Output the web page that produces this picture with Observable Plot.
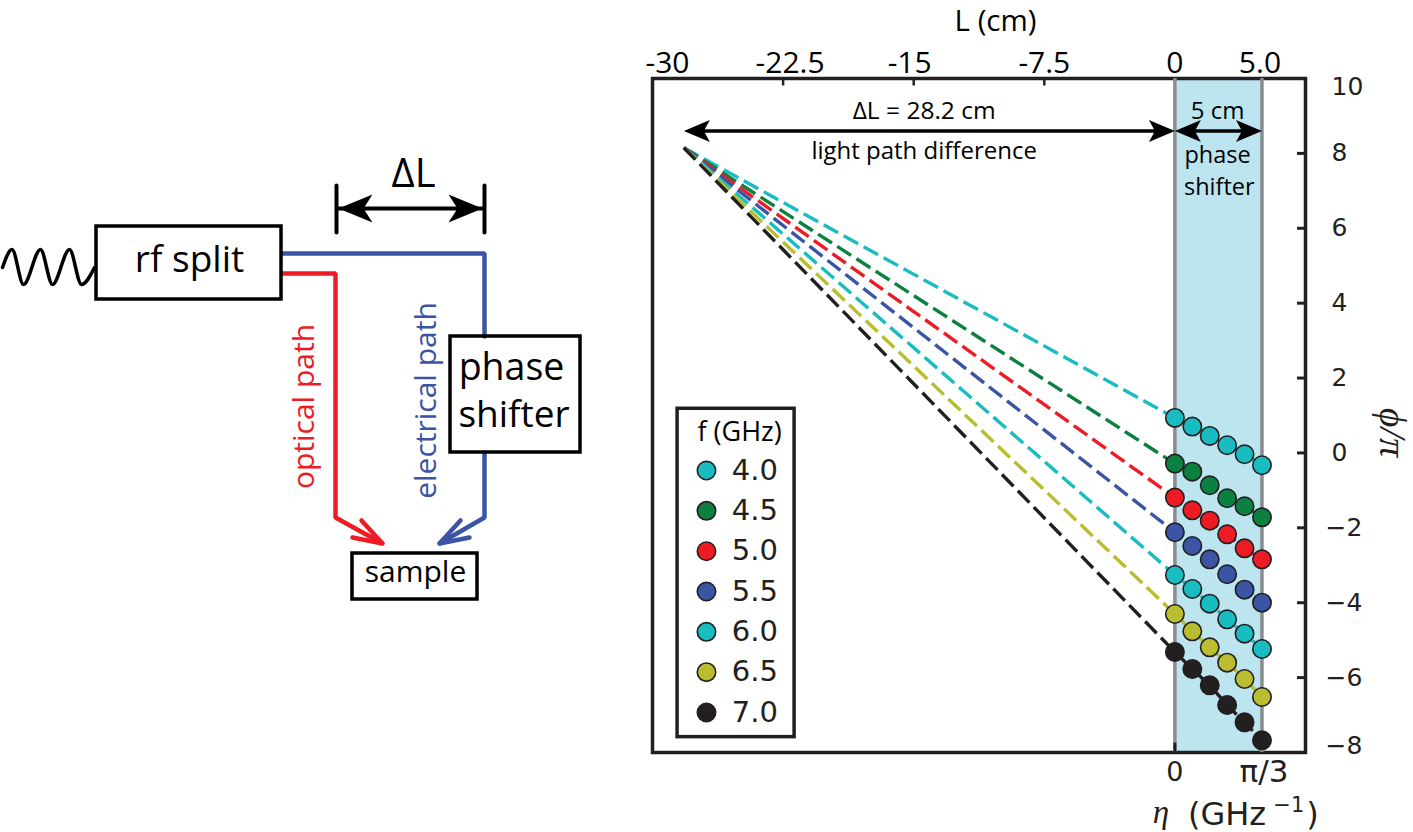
<!DOCTYPE html>
<html>
<head>
<meta charset="utf-8">
<script src="https://cdn.jsdelivr.net/npm/d3@7"></script>
<script src="https://cdn.jsdelivr.net/npm/@observablehq/plot@0.6"></script>
<style>
html,body{margin:0;padding:0;background:#fff;overflow:hidden}
#wrap{display:flex;width:1413px;height:832px}
#wrap svg{display:block;flex:none;background:transparent}
</style>
</head>
<body>
<div id="wrap"></div>
<script>
// ---- chart data ----
const frequencies = ["4.0","4.5","5.0","5.5","6.0","6.5","7.0"];
const colors = ["#19bcc1","#0c8040","#ed1c24","#3b54a4","#19bcc1","#b9bd2f","#231f20"];
const shifterL = [0,1,2,3,4,5];
const phi40 = [0.935,0.703,0.454,0.205,-0.036,-0.329];
const phi45 = [-0.285,-0.499,-0.864,-1.211,-1.425,-1.719];
const phi50 = [-1.193,-1.532,-1.808,-2.173,-2.547,-2.841];
const phi55 = [-2.119,-2.484,-2.841,-3.241,-3.651,-3.998];
const phi60 = [-3.259,-3.633,-4.025,-4.443,-4.826,-5.236];
const phi65 = [-4.301,-4.764,-5.191,-5.601,-6.037,-6.518];
const phi70 = [-5.316,-5.770,-6.207,-6.732,-7.195,-7.676];
const allPhi = [phi40,phi45,phi50,phi55,phi60,phi65,phi70];
const pathDiffL = -28.2;
const convergePhi = 8.15;
const topTicks = [-30,-22.5,-15,-7.5,0,5];
const topLabels = ["-30","-22.5","-15","-7.5","0","5.0"];
const topNudge = [15,7,-4,0,0,-2];
const yTicksPos = [8,6,4,2,0];
const yTicksNeg = [-2,-4,-6];

const points = frequencies.flatMap((f,i)=>shifterL.map((L,j)=>({f,L,phi:allPhi[i][j]})));
const lines = frequencies.flatMap((f,i)=>[{f,L:pathDiffL,phi:convergePhi},...shifterL.map((L,j)=>({f,L,phi:allPhi[i][j]}))]);

// ---- diagram geometry (drawn through an identity pixel scale) ----
const wave = [[2,267],[11.5,249],[23,284],[40,249],[52,284],[69,249],[81,284],[94,267]];
const boxes = [
  {x1:96,x2:281,y1:226,y2:299},{x1:450,x2:580,y1:336,y2:452},{x1:352,x2:477,y1:553,y2:599}
];
const bluePaths = [[[282,253],[484,253],[484,336]],[[484,452],[484,517],[439,543]],[[460,520],[439,543],[469,537]]];
const redPaths = [[[282,273],[335,273],[335,517],[382,543]],[[361,520],[382,543],[352,537]]];
const dlBars = [[[336,185],[336,232]],[[484,185],[484,232]]];
const dlShaft = [[338,208],[482,208]];
const dlHeads = [
  [[338,208],[372,194],[363,208],[372,222]],
  [[482,208],[448,194],[457,208],[448,222]]
];
const toRows = (pts,id)=>pts.map(([x,y])=>({x,y,id}));
const diagFont = "'Open Sans'";
const blk = "#000";

const diagram = Plot.plot({
  width:640,height:832,margin:0,
  x:{domain:[0,640],range:[0,640],axis:null},
  y:{domain:[0,832],range:[0,832],axis:null},
  marks:[
    Plot.line(toRows(wave),{x:"x",y:"y",stroke:blk,strokeWidth:3.5,curve:"monotone-x"}),
    ...bluePaths.map(p=>Plot.line(toRows(p),{x:"x",y:"y",stroke:"#3b54a4",strokeWidth:4.5,strokeLinejoin:"miter"})),
    ...redPaths.map(p=>Plot.line(toRows(p),{x:"x",y:"y",stroke:"#ed1c24",strokeWidth:4.5,strokeLinejoin:"miter"})),
    Plot.rect(boxes,{x1:"x1",x2:"x2",y1:"y1",y2:"y2",stroke:blk,strokeWidth:3.5,fill:"none"}),
    ...dlBars.map(p=>Plot.line(toRows(p),{x:"x",y:"y",stroke:blk,strokeWidth:4})),
    Plot.line(toRows(dlShaft),{x:"x",y:"y",stroke:blk,strokeWidth:4}),
    ...dlHeads.map(p=>Plot.line(toRows(p),{x:"x",y:"y",fill:blk,stroke:"none"})),
    Plot.text(["ΔL"],{x:413,y:174,text:d=>d,fontSize:40,fontFamily:diagFont,fill:blk}),
    Plot.text(["rf split"],{x:189,y:260,text:d=>d,fontSize:37,fontFamily:diagFont,fill:blk}),
    Plot.text(["phase"],{x:511,y:367,text:d=>d,fontSize:37.5,fontFamily:diagFont,fill:blk}),
    Plot.text(["shifter"],{x:513.5,y:415,text:d=>d,fontSize:37,fontFamily:diagFont,fill:blk}),
    Plot.text(["sample"],{x:415,y:572,text:d=>d,fontSize:30,fontFamily:diagFont,fill:blk}),
    Plot.text(["optical path"],{x:304,y:406,text:d=>d,rotate:-90,fontSize:30,fontFamily:diagFont,fill:"#ed1c24"}),
    Plot.text(["electrical path"],{x:426,y:400,text:d=>d,rotate:-90,fontSize:30,fontFamily:diagFont,fill:"#3b54a4"})
  ]
});

// ---- chart ----
const xDom=[-30,7.5], yDom=[-8,10];
const pxX=(xDom[1]-xDom[0])/653, pxY=(yDom[1]-yDom[0])/674;   // data units per pixel, for annotation shapes
const head=(x,y,dir)=>[[0,0],[26,-11],[20,0],[26,11]].map(([a,b])=>({x:x+dir*a*pxX,y:y+b*pxY}));
const arrowY=8.6;
const ink="#231f20";
const sans="'DejaVu Sans'";
const oSans="'Open Sans'";
const lx1=-28.56,lx2=-21.84,ly1=1.18,ly2=-7.59,ldot=-26.9,ltxt=-25.45,ly0=-0.47,lstep=1.077;

const chart = Plot.plot({
  width:773,height:832,marginLeft:12,marginRight:108,marginTop:78,marginBottom:80,
  x:{domain:xDom,axis:null},
  y:{domain:yDom,axis:null},
  color:{domain:frequencies,range:colors},
  marks:[
    Plot.rect([0],{x1:0,x2:5,y1:yDom[0],y2:yDom[1],fill:"#bde5f0"}),
    Plot.frame({stroke:ink,strokeWidth:3.5}),
    Plot.ruleY([...yTicksPos,...yTicksNeg],{x1:7.04,x2:7.5,stroke:ink,strokeWidth:3}),
    Plot.ruleX([-22.5,-15,-7.5],{y1:10,y2:9.8,stroke:ink,strokeWidth:2.5}),
    Plot.ruleX([0,5],{stroke:"#8a8c8e",strokeWidth:3.5}),
    Plot.ruleX([0],{y1:-8,y2:-7.75,stroke:ink,strokeWidth:3}),
    Plot.line(lines,{x:"L",y:"phi",z:"f",stroke:"f",strokeWidth:3.4,strokeDasharray:"16.5,6.3",strokeLinecap:"butt"}),
    Plot.dot(points,{x:"L",y:"phi",fill:"f",stroke:ink,strokeWidth:1.6,r:9.2}),
    // top axis
    ...topTicks.map((t,i)=>Plot.axisX([t],{anchor:"top",tickSize:0,tickPadding:6,dx:topNudge[i],tickFormat:()=>topLabels[i],fontSize:30,fontFamily:oSans,fill:"#000"})),
    Plot.text(["L (cm)"],{x:-10.3,y:10,dy:-57,text:d=>d,fontSize:29.5,fontFamily:oSans,fill:"#000"}),
    // right axis
    Plot.axisY(yTicksPos,{anchor:"right",tickSize:0,tickPadding:26,tickFormat:d=>String(d),fontSize:25,fontFamily:sans,fill:ink}),
    Plot.axisY(yTicksNeg,{anchor:"right",tickSize:0,tickPadding:26,dx:-6,tickFormat:d=>String(d).replace("-","−"),fontSize:25,fontFamily:sans,fill:ink}),
    Plot.axisY([10],{anchor:"right",tickSize:0,tickPadding:26,dy:8,tickFormat:d=>String(d),fontSize:25,fontFamily:sans,fill:ink}),
    Plot.axisY([-8],{anchor:"right",tickSize:0,tickPadding:26,dx:-6,dy:-7,tickFormat:d=>String(d).replace("-","−"),fontSize:25,fontFamily:sans,fill:ink}),
    Plot.text(["ϕ/π"],{x:7.5,y:0.55,dx:87,text:d=>d,rotate:90,fontSize:38,fontFamily:"'Liberation Serif'",fontStyle:"italic",fill:ink}),
    // bottom axis
    Plot.axisX([0],{anchor:"bottom",tickSize:0,tickPadding:9,tickFormat:()=>"0",fontSize:27,fontFamily:sans,fill:ink}),
    Plot.axisX([5],{anchor:"bottom",tickSize:0,tickPadding:7,dx:2,tickFormat:()=>"π/3",fontSize:31,fontFamily:sans,fill:ink}),
    Plot.text(["η"],{x:-0.8,y:-8,dy:60,text:d=>d,fontSize:33,fontFamily:"'Liberation Serif'",fontStyle:"italic",fill:ink}),
    Plot.text(["(GHz"],{x:0.75,y:-8,dy:62,textAnchor:"start",text:d=>d,fontSize:32,fontFamily:sans,fill:ink}),
    Plot.text(["−1"],{x:5.65,y:-8,dy:53,textAnchor:"start",text:d=>d,fontSize:21,fontFamily:sans,fill:ink}),
    Plot.text([")"],{x:7.55,y:-8,dy:62,textAnchor:"start",text:d=>d,fontSize:32,fontFamily:sans,fill:ink}),
    // annotations
    Plot.ruleY([arrowY],{x1:pathDiffL+1,x2:-1,stroke:"#000",strokeWidth:3.5}),
    Plot.ruleY([arrowY],{x1:0.5,x2:4.5,stroke:"#000",strokeWidth:3.5}),
    Plot.line(head(pathDiffL,arrowY,1),{x:"x",y:"y",fill:"#000",stroke:"none"}),
    Plot.line(head(0,arrowY,-1),{x:"x",y:"y",fill:"#000",stroke:"none"}),
    Plot.line(head(0,arrowY,1),{x:"x",y:"y",fill:"#000",stroke:"none"}),
    Plot.line(head(5,arrowY,-1),{x:"x",y:"y",fill:"#000",stroke:"none"}),
    Plot.text(["ΔL = 28.2 cm"],{x:-14.4,y:9.13,text:d=>d,fontSize:24.5,fontFamily:oSans,fill:"#000"}),
    Plot.text(["light path difference"],{x:-14.4,y:8.05,text:d=>d,fontSize:24,fontFamily:oSans,fill:"#000"}),
    Plot.text(["5 cm"],{x:2.45,y:9.13,text:d=>d,fontSize:24,fontFamily:oSans,fill:"#000"}),
    Plot.text(["phase"],{x:2.45,y:7.95,text:d=>d,fontSize:23.5,fontFamily:oSans,fill:"#000"}),
    Plot.text(["shifter"],{x:2.55,y:7.1,text:d=>d,fontSize:23.5,fontFamily:oSans,fill:"#000"}),
    // legend
    Plot.rect([0],{x1:lx1,x2:lx2,y1:ly1,y2:ly2,fill:"#fff",stroke:ink,strokeWidth:3.5}),
    Plot.text(["f (GHz)"],{x:-25,y:0.55,text:d=>d,fontSize:27,fontFamily:oSans,fill:"#000"}),
    Plot.dot(frequencies,{x:ldot,y:(d,i)=>ly0-i*lstep,fill:d=>d,stroke:ink,strokeWidth:1.6,r:9.2}),
    Plot.text(frequencies,{x:ltxt,y:(d,i)=>ly0-i*lstep,text:d=>d,textAnchor:"start",fontSize:29,fontFamily:sans,fill:ink})
  ]
});

const wrap=document.getElementById("wrap");
wrap.append(diagram,chart);
</script>
</body>
</html>
